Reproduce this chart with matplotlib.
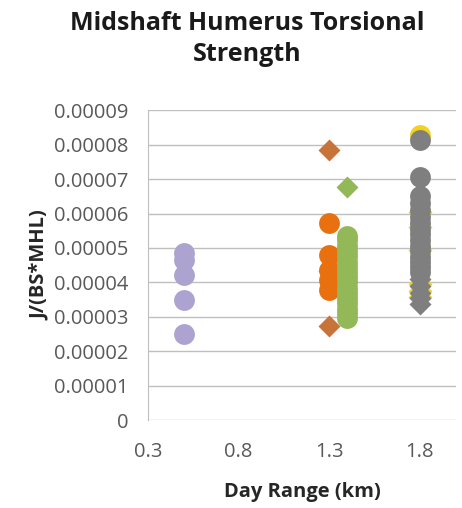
import matplotlib.pyplot as plt

# Day range (km) for each group
purple_x = 0.5
orange_x = 1.3
green_x = 1.4
gray_x = 1.8

# J/(BS*MHL) values
purple_circ = [4.84e-5, 4.65e-5, 4.21e-5, 3.48e-5, 2.49e-5]
brown_diam = [7.84e-5, 4.32e-5, 2.72e-5]
orange_circ = [5.73e-5, 4.81e-5, 4.36e-5, 4.06e-5, 3.77e-5]
red_marks = [4.89e-5, 4.6e-5, 3.69e-5]
green_circ = [5.35e-5, 5.22e-5, 5.05e-5, 4.9e-5, 4.76e-5, 4.6e-5, 4.46e-5, 4.3e-5,
              4.15e-5, 4.0e-5, 3.84e-5, 3.7e-5, 3.55e-5, 3.4e-5, 3.24e-5, 3.1e-5, 2.97e-5]
green_diam = [6.78e-5]
yellow_circ = [8.27e-5]
yellow_diam = [6.05e-5, 5.6e-5, 4.95e-5, 3.95e-5, 3.75e-5, 3.58e-5]
gray_circ = [8.15e-5, 7.05e-5, 6.5e-5, 6.3e-5, 6.1e-5, 5.9e-5, 5.72e-5, 5.55e-5, 5.4e-5,
             5.22e-5, 5.05e-5, 4.9e-5, 4.75e-5, 4.6e-5, 4.45e-5, 4.3e-5]
gray_diam = [4.1e-5, 3.9e-5, 3.7e-5, 3.55e-5, 3.38e-5]

x_ticks = [0.3, 0.8, 1.3, 1.8]
y_ticks = [i * 1e-5 for i in range(10)]
y_labels = ['0'] + ['0.0000%d' % i for i in range(1, 10)]

plt.rcParams['font.family'] = ['Open Sans', 'DejaVu Sans']

fig = plt.figure(figsize=(4.62, 5.08), dpi=100)
ax = fig.add_axes([0.320, 0.173, 0.667, 0.610])

ms_c = 15
ms_d = 11
ax.plot([purple_x] * len(purple_circ), purple_circ, 'o', color='#ADA3D0', ms=ms_c, mec='none')
ax.plot([orange_x] * len(brown_diam), brown_diam, 'D', color='#C8733A', ms=ms_d, mec='none')
ax.plot([orange_x] * len(orange_circ), orange_circ, 'o', color='#E8700F', ms=ms_c, mec='none')
ax.plot([green_x + 0.03] * len(red_marks), red_marks, 'o', color='#C0504D', ms=4, mec='none')
ax.plot([green_x] * len(green_circ), green_circ, 'o', color='#93B857', ms=ms_c, mec='none')
ax.plot([green_x] * len(green_diam), green_diam, 'D', color='#93B857', ms=ms_d, mec='none')
ax.plot([gray_x] * len(yellow_circ), yellow_circ, 'o', color='#F2D21B', ms=ms_c, mec='none')
ax.plot([gray_x] * len(yellow_diam), yellow_diam, 'D', color='#F2D21B', ms=ms_d * 1.1, mec='none')
ax.plot([gray_x] * len(gray_circ), gray_circ, 'o', color='#7F7F7F', ms=ms_c, mec='none')
ax.plot([gray_x] * len(gray_diam), gray_diam, 'D', color='#7F7F7F', ms=ms_d, mec='none')

ax.set_xlim(0.3, 2.0)
ax.set_ylim(0, 9e-5)
ax.set_xticks(x_ticks)
ax.set_xticklabels([str(v) for v in x_ticks])
ax.set_yticks(y_ticks)
ax.set_yticklabels(y_labels)
ax.tick_params(axis='both', length=0, labelsize=14.5, labelcolor='#595959')
ax.tick_params(axis='y', pad=14)
ax.tick_params(axis='x', pad=16)

ax.grid(axis='y', color='#BFBFBF', linewidth=1)
ax.set_axisbelow(True)
for s in ['top', 'right', 'bottom']:
    ax.spines[s].set_visible(False)
ax.spines['left'].set_color('#BFBFBF')

ax.set_xlabel('Day Range (km)', fontsize=14.5, fontweight='bold', color='#262626', labelpad=14)
ax.set_ylabel('J/(BS*MHL)', fontsize=14.5, fontweight='bold', color='#262626', labelpad=3)

fig.text(0.535, 0.978, 'Midshaft Humerus Torsional\nStrength', ha='center', va='top',
         fontsize=18, fontweight='bold', color='#1a1a1a', linespacing=1.3)

fig.savefig('out.png', dpi=100)
